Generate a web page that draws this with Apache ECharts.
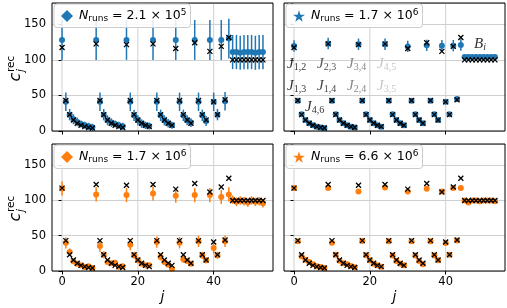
<!DOCTYPE html>
<html><head><meta charset="utf-8">
<script src="https://cdn.jsdelivr.net/npm/echarts@6/dist/echarts.min.js"></script>
<style>html,body{margin:0;padding:0;background:#fff}#c{width:507px;height:308px}</style>
</head><body><div id="c"></div>
<script>
// ---------- data ----------
const jIndex = [0,1,2,3,4,5,6,7,8,9,10,11,12,13,14,15,16,17,18,19,20,21,22,23,24,25,26,27,28,29,30,31,32,33,34,35,36,37,38,39,40,41,42,43,44,45,46,47,48,49,50,51,52,53];
// true values (black crosses)
const trueC = [117.5,43,23,15.5,11,8,6.2,5,4.2, 122.5,43,23,15.5,11,8,6.2,5, 121.5,43,23,15.5,11,8,6.2, 122.5,43,23,15.5,11,8, 116,43,23,15.5,11, 124,43,23,15.5, 112,41,23, 119,44, 131.5, 100,100,100,100,100,100,100,100,100];
// panel 1: N_runs = 2.1e5 (blue)
const est1 = [128,41,23,16.5,12.7,9.9,8,6.6,5.2, 128,41,23,15,11.8,9.9,8,6.6, 128,41,22,15,10.4,8,7, 128,41,22,15,10.8,8, 128,41,22,15,11.8, 128,41,22,14, 128,41,23, 128,42, 130, 111,111,110,111,111,111,110,111,111];
const err1 = [28,13,8,7,6,5,5,5,5, 28,13,8,7,6,5,5,5, 28,13,8,7,6,5,5, 28,13,8,7,6,5, 28,13,8,7,6, 28,13,8,7, 28,13,8, 28,13, 28, 24,24,24,24,24,24,24,24,24];
// panel 2: N_runs = 1.7e6 (blue)
const est2 = [119.5,42.5,23.5,15.5,11,8,6,5,4.2, 123,42.5,23.5,15.5,11,8,6,5, 122,42.5,23.5,15.5,11,8,6, 122,42.5,23.5,15.5,11,8, 119,42.5,23.5,15.5,11, 120.5,42.5,23.5,15.5, 120,41,23.5, 120,45, 121, 104,104,104,104,104,104,104,104,104];
const err2 = [8,3,2,2,2,2,2,2,2, 8,3,2,2,2,2,2,2, 8,3,2,2,2,2,2, 8,3,2,2,2,2, 8,3,2,2,2, 8,3,2,2, 8,3,2, 8,3, 8, 4,4,4,4,4,4,4,4,4];
// panel 3: N_runs = 1.7e6 (orange)
const est3 = [117,40,27,13.7,10.4,8,5.7,6.6,4.3, 108.6,35.4,23,12.8,10.9,11.8,6.2,6.6, 107.6,37.3,22.2,15.1,10.4,8,8, 110,41,19.8,12.8,9,3.3, 106.7,40,16.5,14.2,10.4, 107.6,42,22.2,15.1, 107.6,32.6,22.2, 105,42, 108.6, 101,98,100,99,97,100,98,99,96];
const err3 = [10,8,5,4,3,3,3,3,3, 10,8,5,4,3,3,3,3, 10,8,5,4,3,3,3, 10,8,5,4,3,3, 10,8,5,4,3, 10,8,5,4, 10,8,5, 10,8, 10, 6,6,6,6,6,6,6,6,6];
// panel 4: N_runs = 6.6e6 (orange)
const est4 = [117.5,42,20.8,16,12.8,9.5,6.6,5.7,4.3, 117.5,40.1,23,14.6,10.9,9.5,7.1,5.2, 112.8,42.5,22.2,15.1,10.4,8,6.2, 118.5,42,22,14.2,10.4,8, 112.8,42,22,14.2,9.5, 116.6,42,22,15.1, 112.8,39.7,23, 117.5,43.4, 117.5, 100,97,100,100,99,100,100,100,99];
const err4 = [3,1.5,1.5,1.5,1.5,1.5,1.5,1.5,1.5, 3,1.5,1.5,1.5,1.5,1.5,1.5,1.5, 3,1.5,1.5,1.5,1.5,1.5,1.5, 3,1.5,1.5,1.5,1.5,1.5, 3,1.5,1.5,1.5,1.5, 3,1.5,1.5,1.5, 3,1.5,1.5, 3,1.5, 3, 2,2,2,2,2,2,2,2,2];
const xTicks = [0,20,40];
const legendMant = ['2.1','1.7','1.7','6.6'];
const legendExp = ['5','6','6','6'];

// ---------- layout / style ----------
const blue = '#1f77b4', orange = '#ff7f0e';
const panels = [
  {est: est1, err: err1, color: blue, icon: 'diamond'},
  {est: est2, err: err2, color: blue, icon: 'star'},
  {est: est3, err: err3, color: orange, icon: 'diamond'},
  {est: est4, err: err4, color: orange, icon: 'star'}
];
const gridPos = [
  {left: 52, top: 3, width: 221, height: 128},
  {left: 284, top: 3, width: 221, height: 128},
  {left: 52, top: 144, width: 221, height: 127},
  {left: 284, top: 144, width: 221, height: 127}
];
const starPath = 'path://M50,2L61.8,38.2L99,38.2L69,60.4L80.4,96.6L50,74.2L19.6,96.6L31,60.4L1,38.2L38.2,38.2Z';
const crossPath = 'path://M0,0L10,10M10,0L0,10';
const FONT = 'DejaVu Sans';
const GRIDCOLOR = '#d0d0d0';

const grids = [], xAxes = [], yAxes = [], series = [], legends = [];
panels.forEach((p, k) => {
  const g = gridPos[k];
  grids.push({left: g.left, top: g.top, width: g.width, height: g.height, show: true, borderColor: '#000', borderWidth: 1, backgroundColor: 'transparent', containLabel: false, z: 5});
  const showX = k >= 2, showY = k % 2 === 0;
  xAxes.push({
    type: 'value', gridIndex: k, min: -2.65, max: 55.65,
    axisLine: {show: false},
    axisTick: {show: true, length: 3.5, lineStyle: {color: '#000', width: 1}, customValues: xTicks},
    axisLabel: {show: showX, customValues: xTicks, margin: 5, fontFamily: FONT, fontSize: 11.5, color: '#000'},
    splitLine: {show: false}
  });
  yAxes.push({
    type: 'value', gridIndex: k, min: 0, max: 180, interval: 50,
    axisLine: {show: false},
    axisTick: {show: true, length: 3.5, lineStyle: {color: '#000', width: 1}},
    axisLabel: {show: showY, showMaxLabel: false, margin: 6, fontFamily: FONT, fontSize: 11.5, color: '#000',
      formatter: v => (v % 50 === 0 ? String(v) : '')},
    splitLine: {show: true, lineStyle: {color: GRIDCOLOR, width: 1}}
  });
  // vertical grid lines at the x ticks
  series.push({
    type: 'custom', xAxisIndex: k, yAxisIndex: k, z: 1, silent: true,
    data: xTicks.map(x => [x]), encode: {x: 0},
    renderItem: function (params, api) {
      const x = api.value(0);
      const a = api.coord([x, 0]);
      const b = api.coord([x, 180]);
      return {type: 'line', shape: {x1: a[0], y1: a[1], x2: b[0], y2: b[1]}, style: {stroke: GRIDCOLOR, lineWidth: 1}};
    }
  });
  const barData = jIndex.map((x, i) => [x, p.est[i] - p.err[i], p.est[i] + p.err[i]]);
  series.push({
    type: 'custom', xAxisIndex: k, yAxisIndex: k, z: 2, silent: true,
    data: barData, encode: {x: 0, y: [1, 2]},
    renderItem: function (params, api) {
      const x = api.value(0);
      const a = api.coord([x, api.value(1)]);
      const b = api.coord([x, api.value(2)]);
      return {type: 'line', shape: {x1: a[0], y1: a[1], x2: b[0], y2: b[1]}, style: {stroke: p.color, lineWidth: 1.5}};
    }
  });
  series.push({
    type: 'scatter', name: 'N' + k, xAxisIndex: k, yAxisIndex: k, z: 3, silent: true,
    symbol: 'circle', symbolSize: 6, itemStyle: {color: p.color, opacity: 1},
    data: jIndex.map((x, i) => [x, p.est[i]])
  });
  series.push({
    type: 'scatter', name: 'true' + k, xAxisIndex: k, yAxisIndex: k, z: 4, silent: true,
    symbol: crossPath, symbolSize: 5, itemStyle: {color: '#000', borderColor: '#000', borderWidth: 1.3, opacity: 1},
    data: jIndex.map((x, i) => [x, trueC[i]])
  });
  legends.push({
    data: [{name: 'N' + k, icon: p.icon === 'star' ? starPath : 'diamond'}],
    left: g.left + 2, top: g.top + 1, z: 10,
    itemWidth: 12, itemHeight: 12, itemGap: 6, selectedMode: false,
    backgroundColor: 'rgba(255,255,255,0.85)', borderColor: '#cccccc', borderWidth: 1, borderRadius: 3,
    padding: [4, 4, 4, 7],
    formatter: () => '{i|N}{s|runs}{t| = ' + legendMant[k] + ' × 10}{p|' + legendExp[k] + '}',
    textStyle: {fontFamily: FONT, fontSize: 12.5, color: '#000', padding: [0, 0, 0, 1],
      rich: {
        i: {fontFamily: FONT, fontStyle: 'italic', fontSize: 12.5, color: '#000'},
        s: {fontFamily: FONT, fontSize: 9, color: '#000', padding: [6, 0, 0, 0]},
        t: {fontFamily: FONT, fontSize: 12.5, color: '#000'},
        p: {fontFamily: FONT, fontSize: 9, color: '#000', padding: [0, 0, 7, 0]}
      }}
  });
});

// ---------- text annotations ----------
const SERIF = 'Liberation Serif';
function jLabel(sub, x, y, color) {
  return {type: 'text', x: x, y: y, z: 20, style: {
    text: '{J|J}{s|' + sub + '}', align: 'left', verticalAlign: 'middle',
    rich: {
      J: {fontFamily: SERIF, fontStyle: 'italic', fontSize: 15, fill: color, color: color},
      s: {fontFamily: SERIF, fontSize: 10, fill: color, color: color, padding: [7, 0, 0, 0]}
    }}};
}
const annotations = [
  ['1,2', 287, 64, '#333'], ['2,3', 317, 64, '#555'], ['3,4', 347, 64, '#888'], ['4,5', 377, 64, '#c8c8c8'],
  ['1,3', 287, 86, '#333'], ['1,4', 317, 86, '#444'], ['2,4', 347, 86, '#888'], ['3,5', 377, 86, '#c8c8c8'],
  ['4,6', 305, 107, '#333']
];
const graphics = annotations.map(a => jLabel(a[0], a[1], a[2], a[3]));
graphics.push({type: 'text', x: 474, y: 44, z: 20, style: {
  text: '{B|B}{s|i}', align: 'left', verticalAlign: 'middle',
  rich: {B: {fontFamily: SERIF, fontStyle: 'italic', fontSize: 15, fill: '#333', color: '#333'},
         s: {fontFamily: SERIF, fontStyle: 'italic', fontSize: 10, fill: '#333', color: '#333', padding: [7, 0, 0, 0]}}}});

function yLabel(cy) {
  return {type: 'group', x: 16, y: cy, rotation: Math.PI / 2, children: [
    {type: 'text', x: -7, y: 0, style: {text: 'c', font: 'italic 16px "DejaVu Sans"', fill: '#000', align: 'center', verticalAlign: 'middle'}},
    {type: 'text', x: -2, y: -5, style: {text: 'rec', font: '10.5px "DejaVu Sans"', fill: '#000', align: 'left', verticalAlign: 'middle'}},
    {type: 'text', x: -2, y: 5, style: {text: 'j', font: 'italic 10.5px "DejaVu Sans"', fill: '#000', align: 'left', verticalAlign: 'middle'}}
  ]};
}
graphics.push(yLabel(70), yLabel(210));
graphics.push({type: 'text', x: 162.5, y: 297, style: {text: 'j', font: 'italic 14px "DejaVu Sans"', fill: '#000', align: 'center', verticalAlign: 'middle'}});
graphics.push({type: 'text', x: 394.5, y: 297, style: {text: 'j', font: 'italic 14px "DejaVu Sans"', fill: '#000', align: 'center', verticalAlign: 'middle'}});

const chart = echarts.init(document.getElementById('c'), null, {renderer: 'canvas'});
chart.setOption({
  animation: false,
  backgroundColor: '#fff',
  grid: grids, xAxis: xAxes, yAxis: yAxes, series: series, legend: legends,
  graphic: graphics
});
</script></body></html>
